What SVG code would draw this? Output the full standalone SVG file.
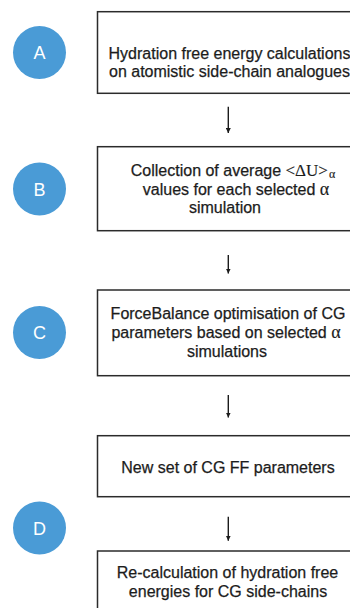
<svg xmlns="http://www.w3.org/2000/svg" width="350" height="608" viewBox="0 0 350 608">
<defs>
<style>
.box{fill:#fff;stroke:#2b2b2b;stroke-width:1.5}
.t{font-family:"Liberation Sans",Arial,sans-serif;font-size:16px;fill:#1c1c1c;text-anchor:middle;stroke:#1c1c1c;stroke-width:0.25}
.s{font-family:"Liberation Serif","Times New Roman",serif;stroke-width:0.15}
.circ{fill:#4a9bd6}
.lab{font-family:"Liberation Sans",Arial,sans-serif;font-size:18px;fill:#fff;text-anchor:middle}
.conn{stroke:#1c1c1c;stroke-width:1.4;fill:none}
</style>
<marker id="ah" viewBox="0 0 10 10" refX="10" refY="5" markerWidth="5" markerHeight="5" markerUnits="userSpaceOnUse" orient="auto">
<path d="M0,0 L10,5 L0,10 z" fill="#1c1c1c"/>
</marker>
</defs>
<rect width="350" height="608" fill="#fff"/>
<g id="labelA"><circle class="circ" cx="39.5" cy="52.5" r="26.5"/><text class="lab" x="39.5" y="59">A</text></g>
<g id="labelB"><circle class="circ" cx="39.5" cy="189" r="26.5"/><text class="lab" x="39.5" y="195.5">B</text></g>
<g id="labelC"><circle class="circ" cx="39.5" cy="332.5" r="26.5"/><text class="lab" x="39.5" y="339">C</text></g>
<g id="labelD"><circle class="circ" cx="39.5" cy="528" r="26.5"/><text class="lab" x="39.5" y="534.5">D</text></g>
<g id="nodeA"><rect class="box" x="97.5" y="11.7" width="262" height="81.6"/>
<text class="t" x="229.5" y="58.5">Hydration free energy calculations</text>
<text class="t" x="229.5" y="76.5">on atomistic side-chain analogues</text></g>
<g id="nodeB"><rect class="box" x="97.5" y="146.7" width="262" height="84"/>
<text class="t" x="233" y="176">Collection of average <tspan class="s" font-size="17">&lt;ΔU&gt;</tspan><tspan class="s" font-size="12" dx="1" dy="1.5">α</tspan></text>
<text class="t" x="236" y="195">values for each selected <tspan class="s" font-size="18">α</tspan></text>
<text class="t" x="225" y="213">simulation</text></g>
<g id="nodeC"><rect class="box" x="97.5" y="290" width="262" height="85.7"/>
<text class="t" x="228" y="319">ForceBalance optimisation of CG</text>
<text class="t" x="226" y="338">parameters based on selected <tspan class="s" font-size="18">α</tspan></text>
<text class="t" x="227" y="357">simulations</text></g>
<g id="nodeNew"><rect class="box" x="97.5" y="435.7" width="262" height="61"/>
<text class="t" x="228" y="473.3">New set of CG FF parameters</text></g>
<g id="nodeRe"><rect class="box" x="97.5" y="551" width="262" height="80"/>
<text class="t" x="227.5" y="578">Re-calculation of hydration free</text>
<text class="t" x="228" y="596.5">energies for CG side-chains</text></g>
<g id="connectors">
<line class="conn" x1="228.3" y1="106.7" x2="228.3" y2="133" marker-end="url(#ah)"/>
<line class="conn" x1="228.3" y1="255" x2="228.3" y2="273.5" marker-end="url(#ah)"/>
<line class="conn" x1="228.3" y1="395" x2="228.3" y2="417.5" marker-end="url(#ah)"/>
<line class="conn" x1="228.3" y1="516.7" x2="228.3" y2="540.7" marker-end="url(#ah)"/>
</g>
</svg>
